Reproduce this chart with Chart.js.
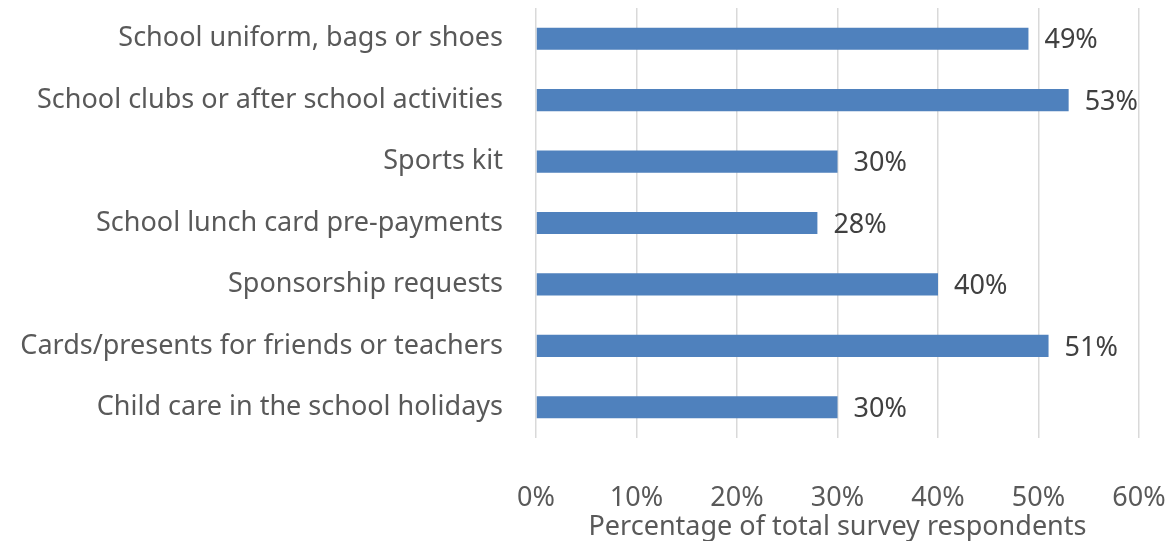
<!DOCTYPE html>
<html>
<head>
<meta charset="utf-8">
<script src="https://cdn.jsdelivr.net/npm/chart.js@4/dist/chart.umd.min.js"></script>
<style>
  html, body { margin: 0; padding: 0; background: #fff; }
  #wrap { width: 1176px; height: 541px; position: relative; }
</style>
</head>
<body>
<div id="wrap"><canvas id="chart"></canvas></div>
<script>
const categories = [
    'School uniform, bags or shoes',
    'School clubs or after school activities',
    'Sports kit',
    'School lunch card pre-payments',
    'Sponsorship requests',
    'Cards/presents for friends or teachers',
    'Child care in the school holidays'
];
const shares = [49, 53, 30, 28, 40, 51, 30];   // % of respondents
const xTicks = [0, 10, 20, 30, 40, 50, 60];

const FONT = '"Noto Sans", sans-serif';
const SIZE = 27;

/* value labels to the right of each bar */
const barLabels = {
    id: 'barLabels',
    afterDatasetsDraw(chart) {
        const ctx = chart.ctx;
        const meta = chart.getDatasetMeta(0);
        ctx.save();
        ctx.font = SIZE + 'px ' + FONT;
        ctx.fillStyle = '#404040';
        ctx.textAlign = 'left';
        ctx.textBaseline = 'middle';
        meta.data.forEach((bar, i) => {
            ctx.fillText(shares[i] + '%', bar.x + 16, bar.y + 2);
        });
        ctx.restore();
    }
};

// keep the plot area where it belongs, ignore label overhang padding
function noPad(scale) {
    scale.paddingTop = 0;
    scale.paddingBottom = 0;
    scale.paddingLeft = 0;
    scale.paddingRight = 0;
}

new Chart(document.getElementById('chart'), {
    type: 'bar',
    data: {
        labels: categories,
        datasets: [{
            data: shares,
            backgroundColor: '#4f81bd',
            categoryPercentage: 1,
            barPercentage: 0.36
        }]
    },
    options: {
        indexAxis: 'y',
        responsive: true,
        maintainAspectRatio: false,
        animation: false,
        layout: { padding: { top: 8, right: 37, left: 0, bottom: 0 } },
        plugins: {
            legend: { display: false },
            tooltip: { enabled: false }
        },
        scales: {
            x: {
                min: 0,
                max: 60,
                afterBuildTicks: (scale) => { scale.ticks = xTicks.map(v => ({ value: v })); },
                afterFit: (scale) => { scale.height = 103; noPad(scale); },
                grid: { color: '#d9d9d9', lineWidth: 1.5, drawTicks: false },
                border: { display: false },
                ticks: {
                    padding: 44,
                    maxRotation: 0,
                    color: '#595959',
                    font: { family: FONT, size: SIZE },
                    callback: (v) => v + '%'
                },
                title: {
                    display: true,
                    text: 'Percentage of total survey respondents',
                    color: '#595959',
                    font: { family: FONT, size: SIZE },
                    padding: { top: 0, bottom: -3 }
                }
            },
            y: {
                afterFit: (scale) => { scale.width = 536; noPad(scale); },
                grid: { display: false, drawTicks: false },
                border: { display: false },
                ticks: {
                    padding: 33,
                    color: '#595959',
                    font: { family: FONT, size: SIZE }
                }
            }
        }
    },
    plugins: [barLabels]
});
</script>
</body>
</html>
